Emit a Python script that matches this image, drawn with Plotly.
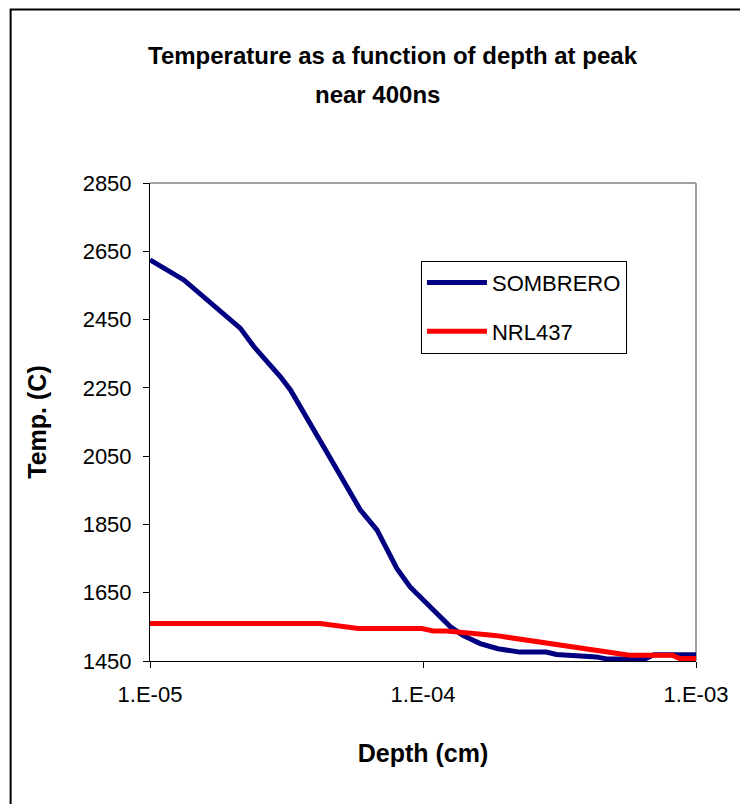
import plotly.graph_objects as go

# Depth (cm) and temperature (C)
somb_depth = [1.0e-5, 1.33e-5, 2.14e-5, 2.40e-5, 3.0e-5, 3.27e-5, 4.32e-5, 4.69e-5,
              5.89e-5, 6.78e-5, 8.02e-5, 8.97e-5, 1.06e-4, 1.26e-4, 1.40e-4, 1.62e-4,
              1.88e-4, 2.26e-4, 2.83e-4, 3.08e-4, 4.32e-4, 4.70e-4, 6.5e-4, 7.0e-4, 1.0e-3]
somb_temp = [2625, 2566, 2425, 2371, 2283, 2244, 2078, 2030,
             1893, 1834, 1721, 1667, 1608, 1550, 1525, 1501,
             1486, 1476, 1476, 1469, 1462, 1456, 1456, 1468, 1468]

nrl_depth = [1.0e-5, 4.2e-5, 5.8e-5, 9.9e-5, 1.09e-4, 1.22e-4, 1.83e-4, 5.38e-4,
             5.71e-4, 8.2e-4, 8.7e-4, 1.0e-3]
nrl_temp = [1560, 1560, 1545, 1545, 1538, 1538, 1525, 1472,
            1467, 1467, 1457, 1457]

y_ticks = [1450, 1650, 1850, 2050, 2250, 2450, 2650, 2850]
x_tickvals = [1e-5, 1e-4, 1e-3]
x_ticktext = ["1.E-05", "1.E-04", "1.E-03"]
title_lines = ["Temperature as a function of depth at peak", "near 400ns"]

FONT = "Liberation Sans, Arial, sans-serif"

# screen geometry of the plot area (page has an 8px body margin)
OFF = 8
PL, PR, PT, PB = 149.5, 696.0, 183.3, 660.7
W, H = 740, 796
PW, PH = PR - PL, PB - PT


def px(sx):
    return (sx - PL) / PW


def py(sy):
    return (PB - sy) / PH


fig = go.Figure()
fig.add_trace(go.Scatter(x=somb_depth, y=somb_temp, mode="lines", name="SOMBRERO",
                         line=dict(color="#000080", width=5), legendgroup="a"))
fig.add_trace(go.Scatter(x=nrl_depth, y=nrl_temp, mode="lines", name="NRL437",
                         line=dict(color="#FF0000", width=5), legendgroup="b"))

fig.update_layout(
    width=W, height=H,
    margin=dict(l=PL - OFF, r=W - (PR - OFF), t=PT - OFF, b=H - (PB - OFF), autoexpand=False),
    paper_bgcolor="white", plot_bgcolor="white",
    font=dict(family=FONT, color="black"),
    showlegend=True,
    legend=dict(x=px(420.7), y=py(261), xanchor="left", yanchor="top",
                bordercolor="black", borderwidth=1, bgcolor="white",
                font=dict(size=22, family=FONT, color="black"),
                tracegroupgap=17, itemwidth=60),
)

fig.add_annotation(text="<b>" + title_lines[0] + "</b>", xref="paper", yref="paper",
                   x=px(393), y=py(56), xanchor="center", yanchor="middle", showarrow=False,
                   font=dict(size=24, family=FONT, color="black"))
fig.add_annotation(text="<b>" + title_lines[1] + "</b>", xref="paper", yref="paper",
                   x=px(377), y=py(95), xanchor="center", yanchor="middle", showarrow=False,
                   font=dict(size=24, family=FONT, color="black"))

fig.update_xaxes(type="log", range=[-5, -3], tickvals=x_tickvals, ticktext=x_ticktext,
                 showgrid=False, zeroline=False, showline=True, linecolor="black", linewidth=1,
                 ticks="outside", ticklen=6, tickcolor="black",
                 tickfont=dict(size=22, family=FONT, color="black"), ticklabelstandoff=8,
                 title=dict(text="<b>Depth (cm)</b>", font=dict(size=25, family=FONT, color="black"),
                            standoff=38))
fig.update_yaxes(range=[1450, 2850], tickvals=y_ticks,
                 showgrid=False, zeroline=False, showline=True, linecolor="black", linewidth=1,
                 ticks="outside", ticklen=6, tickcolor="black",
                 tickfont=dict(size=22, family=FONT, color="black"), ticklabelstandoff=7,
                 title=dict(text="<b>Temp. (C)</b>", font=dict(size=25, family=FONT, color="black"),
                            standoff=28))

# gray top and right frame of plot area
fig.add_shape(type="line", xref="paper", yref="paper", x0=0, x1=1, y0=1, y1=1,
              line=dict(color="#808080", width=1.5), layer="below")
fig.add_shape(type="line", xref="paper", yref="paper", x0=1, x1=1, y0=0, y1=1,
              line=dict(color="#808080", width=1.5), layer="below")
# outer chart frame
fig.add_shape(type="rect", xref="paper", yref="paper",
              x0=px(10), x1=px(744), y0=py(815), y1=py(10),
              line=dict(color="black", width=2), layer="below")

fig.write_html("out.html")
